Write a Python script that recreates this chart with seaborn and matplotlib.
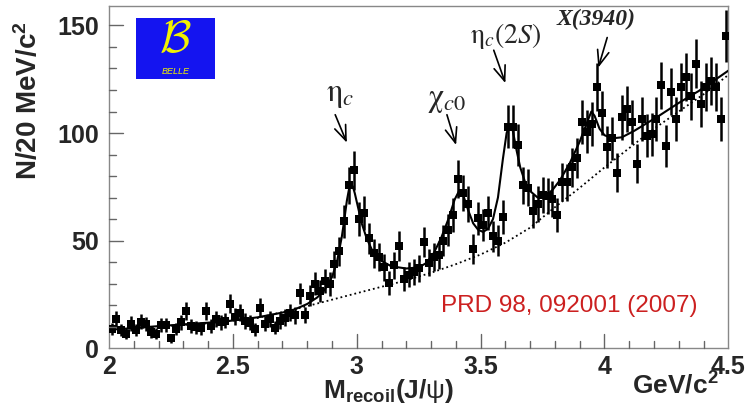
import numpy as np
import seaborn as sns
import matplotlib.pyplot as plt
from matplotlib.patches import Rectangle
from matplotlib.ticker import MultipleLocator, FormatStrFormatter

# --- data (20 MeV bins, 2.0 - 4.5 GeV/c2) ---
counts = [8.9, 13.5, 8.4, 6.7, 11.4, 8.4, 12.3, 11.2, 7.6, 6.7,
          10.7, 10.7, 4.5, 8.9, 12.0, 17.3, 10.3, 9.6, 9.2, 17.3,
          10.3, 13.5, 12.0, 12.8, 20.7, 14.6, 16.5, 12.6, 11.8, 8.7,
          18.8, 11.4, 13.4, 9.5, 12.6, 14.2, 16.5, 15.3, 25.4, 15.4,
          24.3, 30.0, 26.6, 31.0, 29.8, 39.0, 45.0, 59.0, 75.7, 82.7,
          60.0, 62.8, 51.0, 44.0, 42.5, 37.5, 30.3, 38.5, 47.5, 32.1,
          34.1, 35.5, 37.0, 49.2, 39.6, 42.3, 43.2, 50.0, 55.0, 62.0,
          78.5, 72.0, 67.0, 46.1, 60.3, 57.2, 62.6, 52.0, 50.0, 61.0,
          103.0, 103.0, 94.4, 75.7, 74.6, 63.7, 67.0, 71.3, 70.6, 69.2,
          61.9, 77.2, 77.0, 84.0, 88.5, 105.3, 100.6, 104.2, 121.4, 109.3,
          93.5, 97.5, 81.6, 107.3, 111.2, 105.3, 85.8, 106.5, 98.7, 99.4,
          106.5, 122.1, 93.9, 119.3, 106.5, 121.4, 126.0, 117.0, 132.2, 113.6,
          121.4, 124.4, 121.4, 106.5, 145.0]
mass = np.round(2.01 + 0.02 * np.arange(len(counts)), 2)

# total fit (solid)
fit_x = [2.0, 2.1, 2.2, 2.3, 2.4, 2.5, 2.6, 2.7, 2.75, 2.8, 2.84, 2.87, 2.9, 2.92,
         2.94, 2.95, 2.96, 2.968, 2.976, 2.984, 2.992, 3.0, 3.02, 3.04, 3.06, 3.08,
         3.1, 3.14, 3.2, 3.25, 3.28, 3.31, 3.34, 3.37, 3.395, 3.415, 3.43, 3.45,
         3.47, 3.49, 3.51, 3.53, 3.55, 3.57, 3.59, 3.605, 3.618, 3.63, 3.645, 3.66,
         3.68, 3.7, 3.73, 3.76, 3.79, 3.82, 3.86, 3.9, 3.93, 3.947, 3.96, 3.98,
         4.0, 4.03, 4.07, 4.12, 4.17, 4.22, 4.3, 4.38, 4.45, 4.5]
fit_y = [8.5, 9.3, 10.2, 11.0, 11.8, 12.8, 14.3, 16.5, 18.0, 20.5, 23.5, 27.0, 33.0, 40.0,
         52.0, 60.0, 68.5, 73.5, 75.8, 75.2, 72.0, 68.0, 58.0, 51.0, 46.0, 42.5,
         40.5, 38.0, 37.0, 37.5, 39.5, 44.0, 51.0, 60.0, 69.0, 73.5, 71.0, 64.0,
         58.0, 55.0, 54.0, 55.5, 60.0, 70.0, 88.0, 100.0, 104.0, 101.0, 92.0, 84.0,
         77.0, 73.0, 70.0, 70.5, 73.5, 78.0, 86.0, 96.0, 105.0, 110.0, 108.0, 102.0,
         99.0, 97.5, 98.0, 101.0, 104.5, 108.0, 114.0, 119.5, 125.0, 129.0]

# background (dotted)
bkg_x = [2.0, 2.2, 2.4, 2.6, 2.8, 2.9, 3.0, 3.1, 3.2, 3.3, 3.4, 3.5, 3.6, 3.7,
         3.8, 3.9, 4.0, 4.1, 4.2, 4.3, 4.4, 4.5]
bkg_y = [8.3, 10.0, 11.5, 14.0, 19.5, 22.5, 25.5, 28.5, 31.5, 35.0, 39.0, 43.5, 49.0, 56.0,
         65.5, 74.5, 84.0, 93.0, 102.0, 110.0, 118.0, 127.0]

sns.set_theme(style="white")
plt.rcParams.update({
    'font.family': ['Liberation Sans', 'DejaVu Sans'],
    'mathtext.fontset': 'custom',
    'mathtext.rm': 'Liberation Sans',
    'mathtext.it': 'Liberation Sans:italic',
    'mathtext.bf': 'Liberation Sans:bold',
})

fig = plt.figure(figsize=(7.47, 4.09), dpi=100)
ax = fig.add_axes([0.146, 0.149, 0.829, 0.836])

# fit curves
sns.lineplot(x=bkg_x, y=bkg_y, color='black', linestyle=':', linewidth=1.3, ax=ax, zorder=2)
sns.lineplot(x=fit_x, y=fit_y, color='black', linewidth=1.5, ax=ax, zorder=3)

# data points with poisson errors
ax.errorbar(mass, counts, yerr=np.sqrt(counts), fmt='none', ecolor='black',
            elinewidth=1.8, capsize=0, zorder=4)
sns.scatterplot(x=mass, y=counts, marker='s', s=28, color='black', linewidth=0,
                ax=ax, zorder=5)

ax.set_xlim(2.0, 4.5)
ax.set_ylim(0, 159)
ax.xaxis.set_major_locator(MultipleLocator(0.5))
ax.yaxis.set_major_locator(MultipleLocator(50))
ax.xaxis.set_major_formatter(FormatStrFormatter('%g'))
ax.tick_params(axis='both', which='major', length=0, labelsize=18, pad=7)
ax.tick_params(axis='x', which='major', pad=5)
for lab in ax.get_xticklabels() + ax.get_yticklabels():
    lab.set_fontweight('bold')
for sp in ax.spines.values():
    sp.set_color('#888888')
    sp.set_linewidth(1.0)

# inward ROOT-style tick marks
tick_col = '#666666'
xtr = ax.get_xaxis_transform()
ytr = ax.get_yaxis_transform()
for xv in np.arange(2.1, 4.45, 0.1):
    major = abs(xv * 2 - round(xv * 2)) < 1e-6
    ax.plot([xv, xv], [0, 0.041 if major else 0.021], color=tick_col, lw=1.0,
            transform=xtr, clip_on=False, zorder=6)
for yv in range(10, 160, 10):
    major = yv % 50 == 0
    ax.plot([0, 0.0226 if major else 0.0113], [yv, yv], color=tick_col, lw=1.0,
            transform=ytr, clip_on=False, zorder=6)

# axis titles (ROOT style)
fig.text(0.038, 0.755, r'$\mathbf{N/20\ MeV/c^{2}}$', rotation=90, ha='center',
         va='center', fontsize=20)
fig.text(0.52, 0.045, r'$\mathbf{M_{recoil}(J/}\mathrm{\psi}\mathbf{)}$', ha='center',
         va='center', fontsize=19)
fig.text(0.962, 0.057, r'$\mathbf{GeV/c^{2}}$', ha='right', va='center', fontsize=19)

# peak labels and arrows
arrow = dict(arrowstyle='->,head_length=0.9,head_width=0.35', color='black', lw=1.2,
             shrinkA=0, shrinkB=0)
ax.annotate('', xy=(2.96, 95.5), xytext=(2.913, 108.5), arrowprops=arrow)
ax.text(2.933, 117.5, r'$\mathrm{\eta}_c$', ha='center', va='center', fontsize=23,
        math_fontfamily='stix')
ax.annotate('', xy=(3.401, 94.4), xytext=(3.364, 108.5), arrowprops=arrow)
ax.text(3.364, 115.5, r'$\mathrm{\chi}_{c0}$', ha='center', va='center', fontsize=23,
        math_fontfamily='stix')
ax.annotate('', xy=(3.6, 123.2), xytext=(3.553, 138.5), arrowprops=arrow)
ax.text(3.6, 145.0, r'$\mathrm{\eta}_c\mathit{(2S)}$', ha='center', va='center',
        fontsize=20, math_fontfamily='stix')
ax.annotate('', xy=(3.975, 130.4), xytext=(4.011, 144.4), arrowprops=arrow)
ax.text(3.967, 153.0, 'X(3940)', ha='center', va='center', fontsize=17,
        family='Liberation Serif', style='italic', fontweight='bold')

# Belle logo
ax.add_patch(Rectangle((0.0436, 0.787), 0.1276, 0.178, transform=ax.transAxes,
                       facecolor='#1414f0', edgecolor='none', zorder=6))
ax.text(0.107, 0.902, r'$\mathcal{B}$', transform=ax.transAxes, ha='center', va='center',
        fontsize=33, color='#f2f200', math_fontfamily='cm', zorder=7)
ax.text(0.107, 0.810, 'BELLE', transform=ax.transAxes, ha='center', va='center',
        fontsize=6.5, color='#f2f200', style='italic', zorder=7)

# reference
ax.text(3.858, 19.6, 'PRD 98, 092001 (2007)', ha='center', va='center', fontsize=17.5,
        color='#cc2020')

fig.savefig('out.png', dpi=100)
